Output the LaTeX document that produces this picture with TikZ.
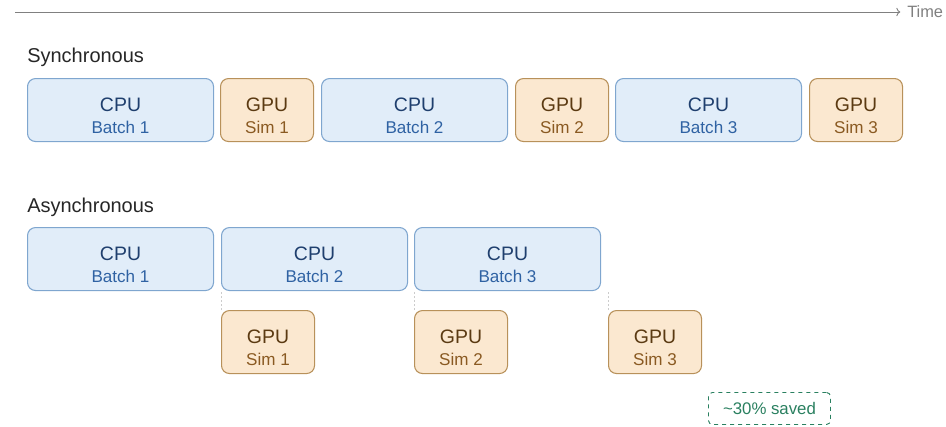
\documentclass[tikz,border=0pt]{standalone}
\usepackage{fontspec}
\setmainfont{Liberation Sans}
\usetikzlibrary{arrows.meta, positioning, calc}

\definecolor{cpufill}{HTML}{E1EDF9}
\definecolor{cpuline}{HTML}{7FA6CF}
\definecolor{cputext}{HTML}{1F3F6E}
\definecolor{cpusubtext}{HTML}{2F62A3}
\definecolor{gpufill}{HTML}{FBE8D0}
\definecolor{gpuline}{HTML}{B8915A}
\definecolor{gputext}{HTML}{5B3A12}
\definecolor{gpusubtext}{HTML}{8A5A22}
\definecolor{savedgreen}{HTML}{2A8060}
\definecolor{axisgray}{HTML}{808080}

\begin{document}
\begin{tikzpicture}[x=0.75pt, y=-0.75pt,
    box/.style={anchor=north west, rounded corners=6pt, line width=0.8pt,
                minimum height=47.25pt, inner sep=0pt},
    cpu/.style={box, draw=cpuline, fill=cpufill, minimum width=139.5pt},
    gpu/.style={box, draw=gpuline, fill=gpufill, minimum width=69.75pt},
    title/.style={inner sep=0pt, font=\fontsize{14.6}{17}\selectfont},
    sub/.style={inner sep=0pt, font=\fontsize{12.8}{15}\selectfont},
    heading/.style={anchor=west, inner sep=0pt, text=black!85,
                    font=\fontsize{15}{18}\selectfont},
    tick/.style={draw=black!20, line width=0.6pt, dash pattern=on 1.5pt off 1.5pt}]
    \useasboundingbox (0,0) rectangle (946,426);

    % time axis
    \coordinate (t0) at (15,12);
    \node[anchor=west, inner sep=0pt, text=axisgray,
          font=\fontsize{12.3}{15}\selectfont] (time) at (907,12) {Time};
    \draw[axisgray, line width=0.7pt, -{To[length=3pt]}] (t0) -- ([xshift=-5pt]time.west);

    % synchronous: cpu and gpu take turns
    \node[heading] (synclabel) at (27,57) {Synchronous};
    \foreach \i/\x/\g in {1/27/220, 2/321/515, 3/615/809} {
        \node[cpu] (sc\i) at (\x,78) {};
        \node[title, text=cputext] (sct\i) at ([yshift=4.1pt]sc\i.center) {CPU};
        \node[sub, text=cpusubtext] (scs\i) at ([yshift=-13.1pt]sc\i.center) {Batch \i};
        \node[gpu] (sg\i) at (\g,78) {};
        \node[title, text=gputext] (sgt\i) at ([yshift=4.1pt]sg\i.center) {GPU};
        \node[sub, text=gpusubtext] (sgs\i) at ([yshift=-13.1pt]sg\i.center) {Sim \i};
    }

    % asynchronous: simulation runs under the next batch
    \node[heading] (asynclabel) at (27,207) {Asynchronous};
    \foreach \i/\x/\g in {1/27/221, 2/221/414, 3/414/608} {
        \node[cpu] (ac\i) at (\x,227) {};
        \node[title, text=cputext] (act\i) at ([yshift=4.1pt]ac\i.center) {CPU};
        \node[sub, text=cpusubtext] (acs\i) at ([yshift=-13.1pt]ac\i.center) {Batch \i};
        \node[gpu] (ag\i) at (\g,310) {};
        \node[title, text=gputext] (agt\i) at ([yshift=4.1pt]ag\i.center) {GPU};
        \node[sub, text=gpusubtext] (ags\i) at ([yshift=-13.1pt]ag\i.center) {Sim \i};
        \draw[tick] (ag\i.north west) -- (ag\i.north west |- ac\i.south);
    }

    \node[anchor=north west, draw=savedgreen, dashed, rounded corners=3pt,
          line width=0.7pt, minimum width=91.5pt, minimum height=24pt,
          inner sep=0pt, text=savedgreen, font=\fontsize{12.6}{15}\selectfont]
          (saved) at (708,392) {\textasciitilde30\% saved};
\end{tikzpicture}
\end{document}
